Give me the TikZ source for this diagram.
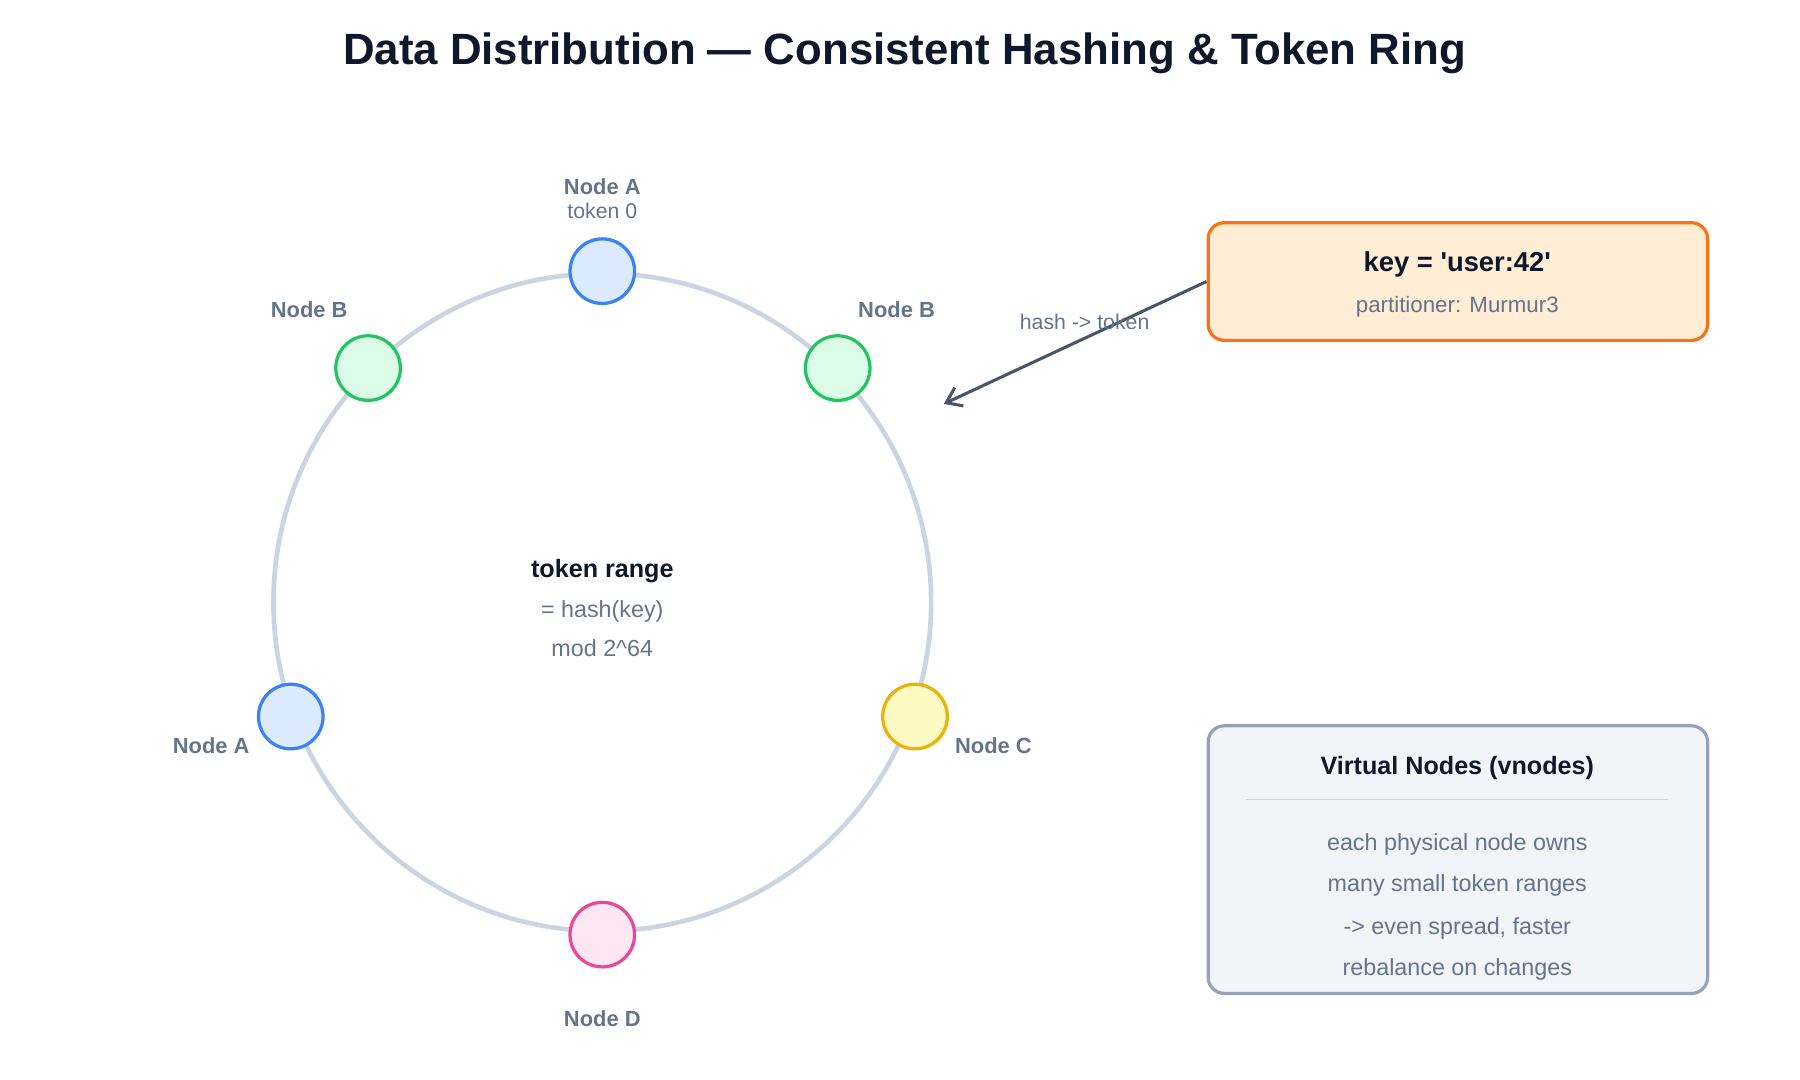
\documentclass[tikz,border=0pt]{standalone}
\usepackage{fontspec}
\setmainfont{Liberation Sans}
\usetikzlibrary{arrows.meta, positioning, calc}
\definecolor{ink}{HTML}{0F172A}
\definecolor{muted}{HTML}{64748B}
\definecolor{ringc}{HTML}{CBD5E1}
\definecolor{HTMLblue}{HTML}{3B82F6}\definecolor{HTMLbluef}{HTML}{DBEAFE}
\definecolor{grn}{HTML}{22C55E}\definecolor{grnf}{HTML}{DCFCE7}
\definecolor{ylw}{HTML}{EAB308}\definecolor{ylwf}{HTML}{FEF9C3}
\definecolor{pnk}{HTML}{EC4899}\definecolor{pnkf}{HTML}{FCE7F3}
\definecolor{orng}{HTML}{F97316}\definecolor{orngf}{HTML}{FFEDD5}
\definecolor{slate}{HTML}{94A3B8}\definecolor{slatef}{HTML}{F1F5F9}
\definecolor{arrowc}{HTML}{475569}
\begin{document}
\begin{tikzpicture}[x=0.02cm, y=-0.02cm,
  vnode/.style={circle, draw, line width=1.6pt, minimum size=1.12cm, inner sep=0pt},
  blue/.style={vnode, draw=HTMLblue, fill=HTMLbluef},
  lbl/.style={font=\fontsize{10.8}{12}\selectfont\bfseries, text=muted},
  txt/.style={font=\fontsize{11.5}{13}\selectfont, text=muted},
  panel/.style={rectangle, rounded corners=8pt, line width=1.6pt}
]
  \useasboundingbox (0,0) rectangle (1560,936);

  % title
  \node[font=\fontsize{21.6}{25}\selectfont\bfseries, text=ink] (title) at (784,46)
    {Data Distribution — Consistent Hashing \& Token Ring};

  % ring
  \draw[ringc, line width=2.3pt] (522,522) circle (285);

  % ring members
  \node[blue] (nA1) at (522,235) {};
  \node[vnode, draw=grn, fill=grnf] (nB1) at (319,319) {};
  \node[vnode, draw=grn, fill=grnf] (nB2) at (726,319) {};
  \node[blue] (nA2) at (252,621) {};
  \node[vnode, draw=ylw, fill=ylwf] (nC) at (793,621) {};
  \node[vnode, draw=pnk, fill=pnkf] (nD) at (522,810) {};

  \node[lbl] (lA1) at (522,162) {Node A};
  \node[txt, font=\fontsize{10.5}{12}\selectfont] (tA1) at (522,183) {token 0};
  \node[lbl] (lB1) at (268,268) {Node B};
  \node[lbl] (lB2) at (777,268) {Node B};
  \node[lbl] (lA2) at (183,646) {Node A};
  \node[lbl] (lC) at (861,646) {Node C};
  \node[lbl] (lD) at (522,883) {Node D};

  % centre
  \node[font=\fontsize{12.4}{14}\selectfont\bfseries, text=ink] (range) at (522,495) {token range};
  \node[txt] (hash) at (522,530) {= hash(key)};
  \node[txt] (mod) at (522,562) {mod 2\^{}64};

  % key box
  \node[panel, draw=orng, fill=orngf, minimum width=8.66cm, minimum height=2.04cm] (key) at (1263.5,244) {};
  \node[font=\fontsize{13.5}{15}\selectfont\bfseries, text=ink] (keyt) at (1263,229)
    {key = \textquotesingle user:42\textquotesingle};
  \node[txt, font=\fontsize{11}{13}\selectfont] (part) at (1263,266) {partitioner: Murmur3};
  \coordinate (hit) at (818,350);
  \draw[arrowc, line width=1.5pt, -{Straight Barb[length=7pt,width=10pt]}] (key.west) -- (hit);
  \node[txt, font=\fontsize{10.5}{12}\selectfont] (hl) at (940,279) {hash -> token};

  % vnodes box
  \node[panel, draw=slate, fill=slatef, minimum width=8.66cm, minimum height=4.64cm] (vn) at (1263.5,745) {};
  \node[font=\fontsize{12.4}{14}\selectfont\bfseries, text=ink] (vnt) at (1263,666) {Virtual Nodes (vnodes)};
  \draw[ringc, line width=0.6pt] (1080,693) -- (1446,693);
  \node[txt] (v1) at (1263,732) {each physical node owns};
  \node[txt] (v2) at (1263,767) {many small token ranges};
  \node[txt] (v3) at (1263,805) {-> even spread, faster};
  \node[txt] (v4) at (1263,840) {rebalance on changes};
\end{tikzpicture}
\end{document}
